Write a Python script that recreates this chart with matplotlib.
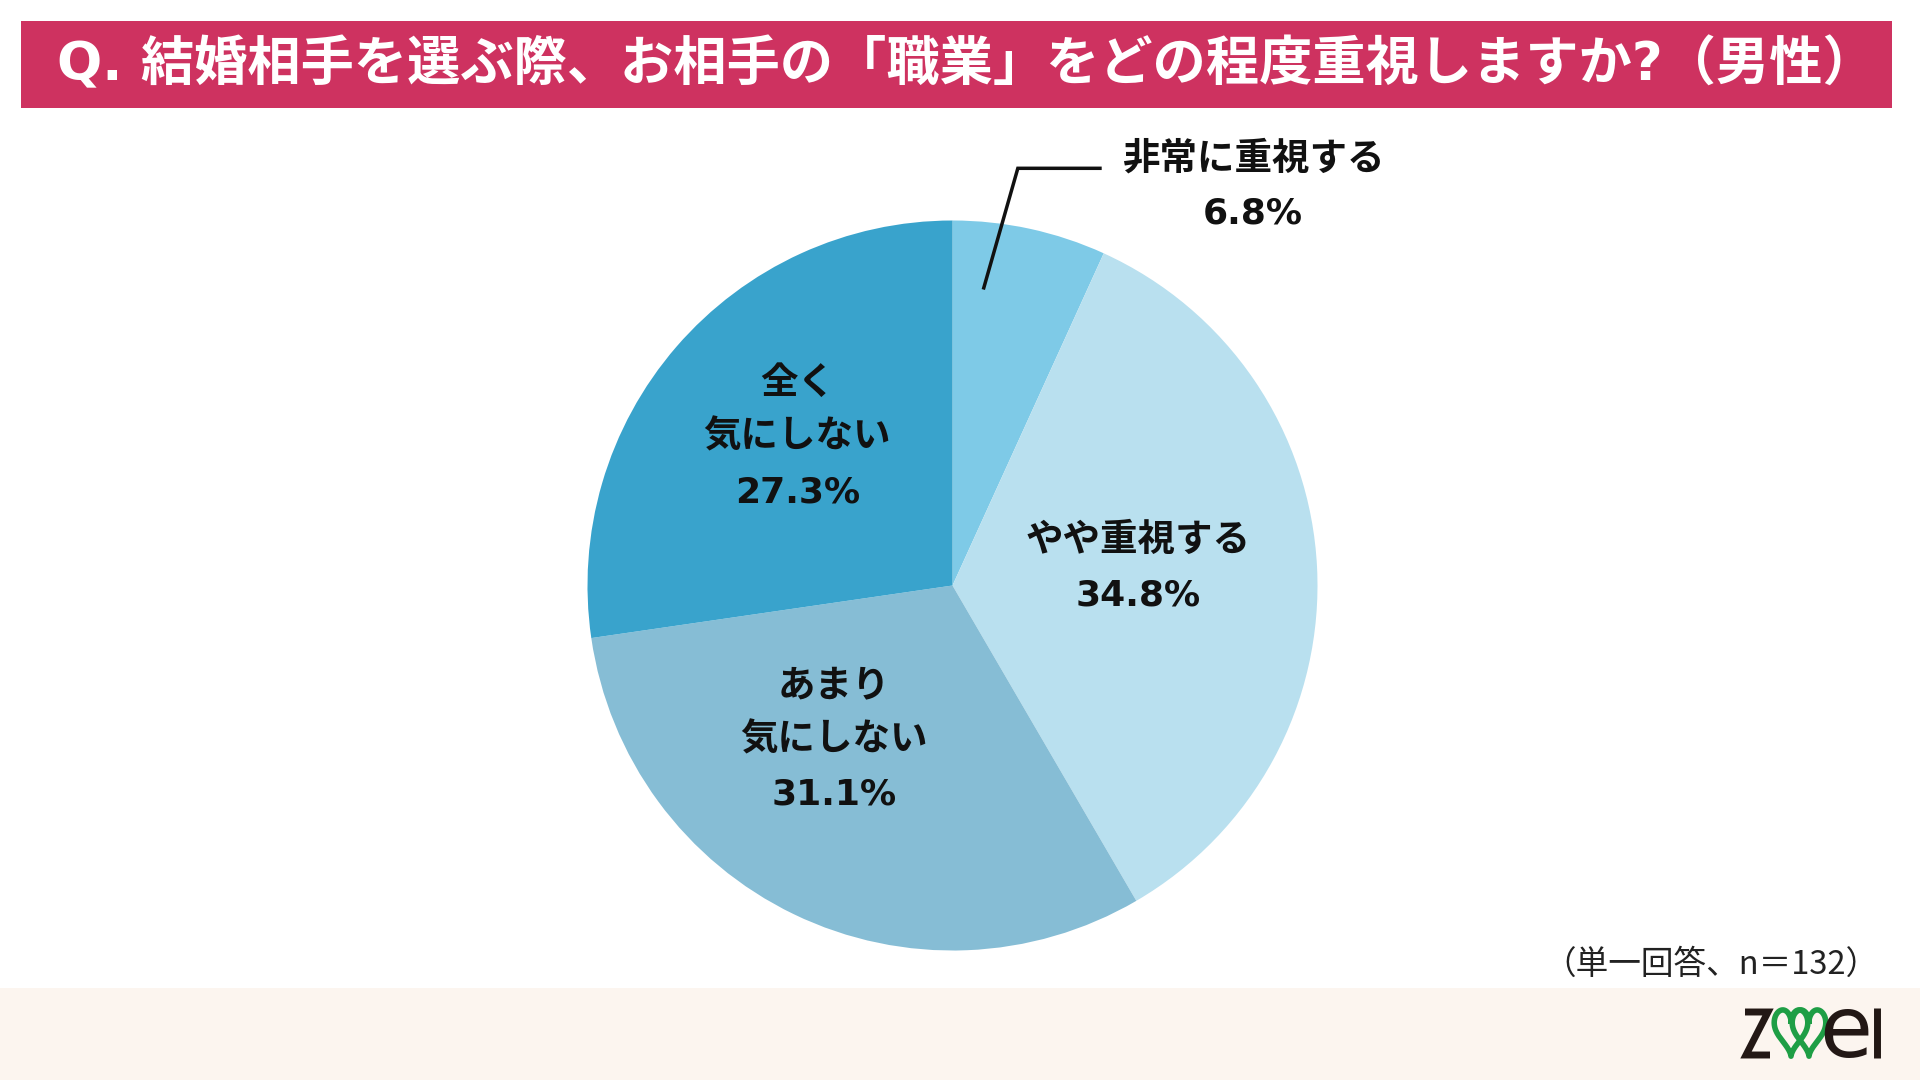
import matplotlib
matplotlib.use("Agg")
import matplotlib.pyplot as plt
import numpy as np
from matplotlib.patches import Rectangle

plt.rcParams['font.family'] = ['Noto Sans CJK JP', 'DejaVu Sans']
MIX = ['DejaVu Sans', 'Noto Sans CJK JP']

title = "Q. 結婚相手を選ぶ際、お相手の「職業」をどの程度重視しますか?（男性）"
categories = ["非常に重視する", "やや重視する", "あまり\n気にしない", "全く\n気にしない"]
values = [6.8, 34.8, 31.1, 27.3]
colors = ["#7ECAE7", "#B9E0EF", "#86BDD5", "#39A3CC"]
note = "（単一回答、n＝132）"

W, H = 1920, 1080
fig = plt.figure(figsize=(W / 100, H / 100), dpi=100)
fig.patch.set_facecolor("white")

# overlay axes in pixel coordinates
bg = fig.add_axes([0, 0, 1, 1])
bg.set_xlim(0, W)
bg.set_ylim(H, 0)
bg.axis("off")

# title bar
bg.add_patch(Rectangle((21, 21), 1871, 87, facecolor="#CE3260", edgecolor="none"))
bg.text(57, 65, title, color="white", fontsize=38.3, fontweight="bold",
        va="center", ha="left", family=MIX)

# footer
bg.add_patch(Rectangle((0, 988), W, 92, facecolor="#FCF5EF", edgecolor="none"))
bg.text(1878, 965, note, color="#222222", fontsize=23.5, va="center", ha="right")

# logo "zwei"
dark = "#231815"
green = "#1E9E45"
bg.plot([1745, 1768, 1746, 1770], [1012, 1012, 1055, 1055], color=dark,
        lw=5, solid_joinstyle="miter", solid_capstyle="butt")
bg.text(1846, 1033, "e", color=dark, fontsize=62, ha="center", va="center",
        family="DejaVu Sans")
bg.plot([1877, 1877], [1008, 1058], color=dark, lw=5, solid_capstyle="butt")
t = np.linspace(0, 2 * np.pi, 200)
hx = 16 * np.sin(t) ** 3
hy = 13 * np.cos(t) - 5 * np.cos(2 * t) - 2 * np.cos(3 * t) - np.cos(4 * t)
for cx in (1791, 1809):
    bg.plot(cx + hx * 1.05, 1029 - hy * 1.6, color=green, lw=4)

# pie
cx, cy, r = 952.5, 585.5, 365
ax = fig.add_axes([(cx - r) / W, (H - cy - r) / H, 2 * r / W, 2 * r / H])
wedges, _ = ax.pie(values, colors=colors, startangle=90, counterclock=False,
                   radius=1.0, wedgeprops=dict(linewidth=0))
ax.set_xlim(-1, 1)
ax.set_ylim(-1, 1)
ax.set_aspect("equal")
ax.axis("off")

fs = 27
lh = 0.148  # line step in pie units
# inner labels: (angle offset deg, radius) tweaks per slice
adjust = {1: (3.0, 0.51), 2: (-12.0, 0.53), 3: (-3.0, 0.59)}
for i in (1, 2, 3):
    w = wedges[i]
    mid = np.deg2rad((w.theta1 + w.theta2) / 2 + adjust[i][0])
    x, y = adjust[i][1] * np.cos(mid), adjust[i][1] * np.sin(mid)
    lines = categories[i].split("\n") + [f"{values[i]}%"]
    n = len(lines)
    for k, s in enumerate(lines):
        yy = y + (n - 1) / 2 * lh - k * lh
        if k == n - 1:
            ax.text(x, yy - 0.005, s, ha="center", va="center", fontsize=26,
                    fontweight="bold", color="#111111", family="DejaVu Sans")
        else:
            ax.text(x, yy, s, ha="center", va="center", fontsize=fs,
                    fontweight="bold", color="#111111")

# outside label for first slice with leader line
a0 = np.deg2rad(84)
p0 = (0.82 * np.cos(a0), 0.82 * np.sin(a0))
ax.plot([p0[0], 0.179, 0.404], [p0[1], 1.143, 1.143], color="#111111", lw=2.5,
        clip_on=False, solid_joinstyle="miter")
ax.text(0.823, 1.170, categories[0], ha="center", va="center", fontsize=fs,
        fontweight="bold", color="#111111")
ax.text(0.823, 1.020, f"{values[0]}%", ha="center", va="center", fontsize=26,
        fontweight="bold", color="#111111", family="DejaVu Sans")

fig.savefig("out.png", dpi=100)
